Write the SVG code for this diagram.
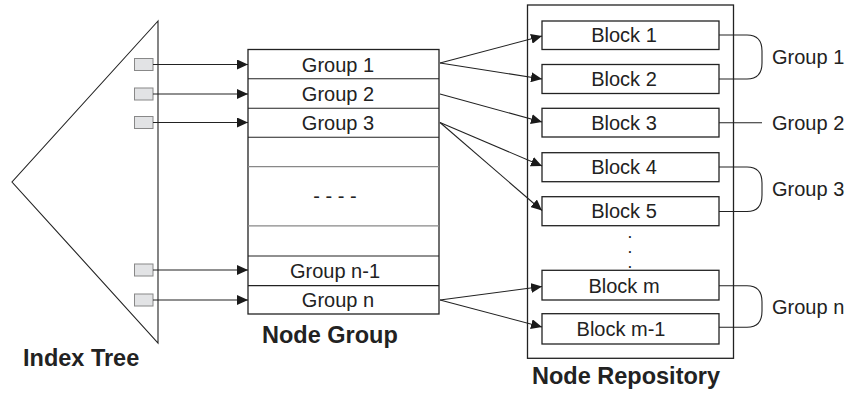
<svg xmlns="http://www.w3.org/2000/svg" width="849" height="396" viewBox="0 0 849 396">
<style>
.t{font-family:"Liberation Sans",Arial,sans-serif;font-size:20px;fill:#222}
.d{font-family:"Liberation Sans",Arial,sans-serif;font-size:12px;font-weight:bold;fill:#222}
.b{font-family:"Liberation Sans",Arial,sans-serif;font-size:23.5px;font-weight:bold;fill:#222}
.box{fill:#fff;stroke:#222;stroke-width:1.3}
.ln{fill:none;stroke:#222;stroke-width:1.1}
.gl{fill:none;stroke:#888;stroke-width:1.3}
.ptr{fill:#e2e3e5;stroke:#888;stroke-width:1}
</style>
<defs>
<marker id="ah" viewBox="0 0 11 10" refX="11" refY="5" markerWidth="11" markerHeight="10" orient="auto" markerUnits="userSpaceOnUse">
<path d="M0,0 L11,5 L0,10 z" fill="#1a1a1a"/>
</marker>
</defs>
<rect width="849" height="396" fill="#fff"/>

<g id="index-tree">
<path d="M158,21 L12,182 L158,343 Z" class="ln"/>
<rect class="ptr" x="134.5" y="58.5" width="18.5" height="12"/>
<rect class="ptr" x="134.5" y="88" width="18.5" height="12"/>
<rect class="ptr" x="134.5" y="116.5" width="18.5" height="12"/>
<rect class="ptr" x="134.5" y="264" width="18.5" height="12"/>
<rect class="ptr" x="134.5" y="294" width="18.5" height="12"/>
<text class="b" x="23" y="366">Index Tree</text>
</g>

<g id="node-group">
<rect class="box" x="248" y="49.5" width="191" height="264.5"/>
<line class="ln" x1="248" y1="78.7" x2="439" y2="78.7" stroke-width="1.3"/>
<line class="ln" x1="248" y1="108.2" x2="439" y2="108.2" stroke-width="1.3"/>
<line class="ln" x1="248" y1="137.3" x2="439" y2="137.3" stroke-width="1.3"/>
<line class="gl" x1="248" y1="166.7" x2="439" y2="166.7"/>
<line class="gl" x1="248" y1="225.8" x2="439" y2="225.8"/>
<line class="ln" x1="248" y1="256" x2="439" y2="256" stroke-width="1.3"/>
<line class="ln" x1="248" y1="285.6" x2="439" y2="285.6" stroke-width="1.3"/>
<text class="t" x="338" y="71.5" text-anchor="middle">Group 1</text>
<text class="t" x="338" y="100.5" text-anchor="middle">Group 2</text>
<text class="t" x="338" y="129.5" text-anchor="middle">Group 3</text>
<text class="t" x="335" y="203" text-anchor="middle">- - - -</text>
<text class="t" x="335" y="278" text-anchor="middle">Group n-1</text>
<text class="t" x="338" y="307" text-anchor="middle">Group n</text>
<text class="b" x="262" y="343">Node Group</text>
</g>

<g id="node-repository">
<rect class="box" x="527.5" y="5" width="206" height="353.3"/>
<text class="b" x="532" y="384">Node Repository</text>
</g>
<g id="block-1"><rect class="box" x="542" y="21" width="177" height="28.5"/><text class="t" x="624" y="42" text-anchor="middle">Block 1</text></g>
<g id="block-2"><rect class="box" x="542" y="64.5" width="177" height="29"/><text class="t" x="624" y="86" text-anchor="middle">Block 2</text></g>
<g id="block-3"><rect class="box" x="542" y="108.3" width="177" height="28.7"/><text class="t" x="624" y="129.5" text-anchor="middle">Block 3</text></g>
<g id="block-4"><rect class="box" x="542" y="152.7" width="177" height="29"/><text class="t" x="624" y="174" text-anchor="middle">Block 4</text></g>
<g id="block-5"><rect class="box" x="542" y="196.7" width="177" height="29"/><text class="t" x="624" y="218" text-anchor="middle">Block 5</text></g>
<g id="ellipsis">
<text class="d" x="630" y="237.5" text-anchor="middle">.</text>
<text class="d" x="630" y="252.5" text-anchor="middle">.</text>
<text class="d" x="630" y="267.5" text-anchor="middle">.</text>
</g>
<g id="block-m"><rect class="box" x="542" y="270.3" width="177" height="29.7"/><text class="t" x="624" y="292.5" text-anchor="middle">Block m</text></g>
<g id="block-m-1"><rect class="box" x="542" y="313.7" width="177" height="30.3"/><text class="t" x="621" y="336" text-anchor="middle">Block m-1</text></g>

<g id="group-labels">
<text class="t" x="772" y="64">Group 1</text>
<text class="t" x="772" y="129.5">Group 2</text>
<text class="t" x="772" y="196">Group 3</text>
<text class="t" x="772" y="313.5">Group n</text>
</g>

<g id="connectors">
<line class="ln" x1="153" y1="64.5" x2="248" y2="64.5" marker-end="url(#ah)"/>
<line class="ln" x1="153" y1="94" x2="248" y2="94" marker-end="url(#ah)" stroke="#666"/>
<line class="ln" x1="153" y1="122.5" x2="248" y2="122.5" marker-end="url(#ah)"/>
<line class="ln" x1="153" y1="270" x2="248" y2="270" marker-end="url(#ah)"/>
<line class="ln" x1="153" y1="300" x2="248" y2="300" marker-end="url(#ah)"/>

<line class="ln" x1="440" y1="63" x2="542" y2="36" marker-end="url(#ah)"/>
<line class="ln" x1="440" y1="63" x2="542" y2="79" marker-end="url(#ah)"/>
<line class="ln" x1="440" y1="94" x2="542" y2="122" marker-end="url(#ah)"/>
<line class="ln" x1="440" y1="122.5" x2="542" y2="166" marker-end="url(#ah)"/>
<line class="ln" x1="440" y1="122.5" x2="542" y2="210.5" marker-end="url(#ah)"/>
<line class="ln" x1="440" y1="300" x2="542" y2="286.5" marker-end="url(#ah)"/>
<line class="ln" x1="440" y1="300" x2="542" y2="327" marker-end="url(#ah)"/>

<path class="ln" d="M719,35 H747 C758,35 762,42 762,51 V63 C762,72 758,79 747,79 H719"/>
<line class="ln" x1="719" y1="122.7" x2="762" y2="122.7"/>
<path class="ln" d="M719,167 H747 C758,167 762,174 762,183 V195 C762,204 758,211.5 747,211.5 H719"/>
<path class="ln" d="M719,285.7 H747 C758,285.7 762,292.7 762,301.7 V311 C762,320 758,327.3 747,327.3 H719"/>
</g>
</svg>
